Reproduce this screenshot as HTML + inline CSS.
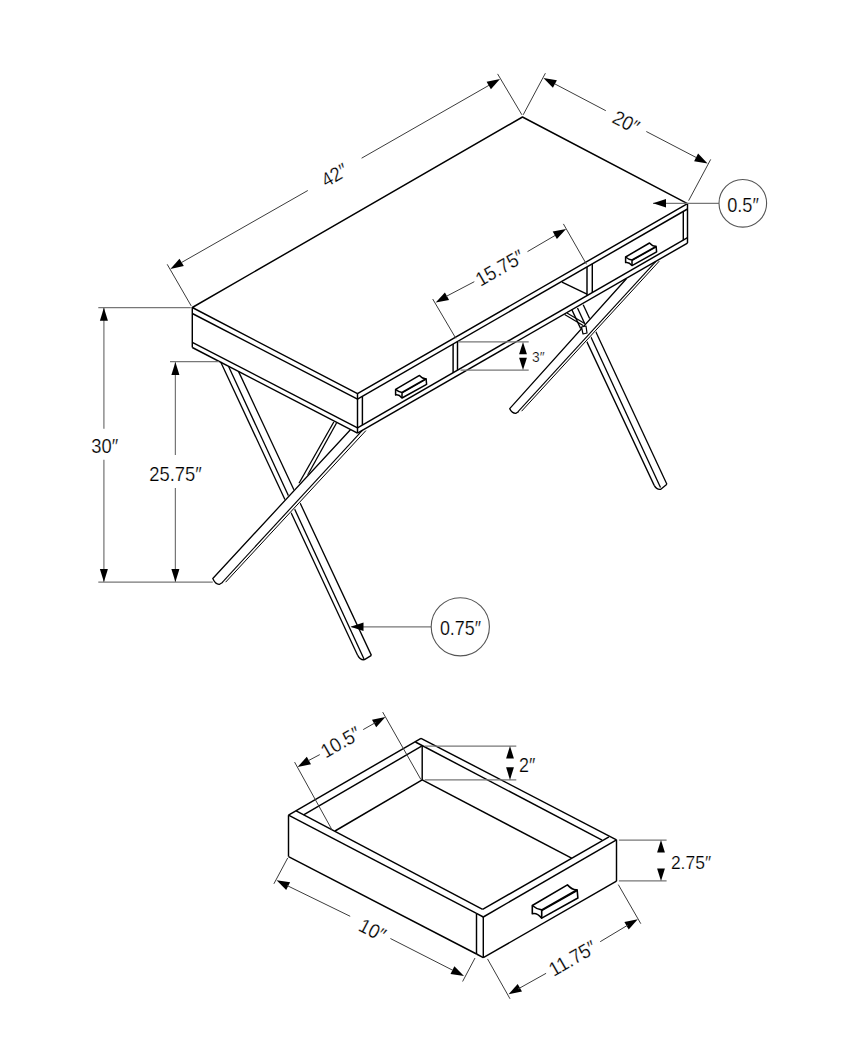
<!DOCTYPE html>
<html><head><meta charset="utf-8"><style>
html,body{margin:0;padding:0;background:#fff;}
svg{display:block;}
text{font-family:"Liberation Sans",sans-serif;fill:#000;stroke:#fff;stroke-width:0.22px;}
</style></head><body>
<svg width="865" height="1050" viewBox="0 0 865 1050" stroke-linecap="butt">
<rect width="865" height="1050" fill="#fff"/>
<line x1="220.7" y1="362.0" x2="357.7" y2="655.4" stroke="#000" stroke-width="1.3"/>
<line x1="228.5" y1="366.2" x2="364.0" y2="659.0" stroke="#000" stroke-width="1.3"/>
<line x1="238.5" y1="371.4" x2="371.4" y2="655.4" stroke="#000" stroke-width="1.3"/>
<path d="M357.7,655.4 Q360.5,660.5 364.5,659.6 L371.4,655.4" fill="none" stroke="#000" stroke-width="1.3" stroke-linejoin="round"/>
<line x1="333.8" y1="422.0" x2="299.0" y2="483.2" stroke="#000" stroke-width="1.3"/>
<line x1="336.5" y1="423.0" x2="307.7" y2="475.0" stroke="#000" stroke-width="1.3"/>
<path d="M350.4,429.8 L212.8,578.5 Q215.5,584.8 219.6,584.3 L226.5,581.5 L367,430 Z" fill="#fff" stroke="#fff" stroke-width="1.6" stroke-linejoin="round"/>
<path d="M362.6,430.2 L222.3,582.3" fill="none" stroke="#000" stroke-width="1.15" stroke-linejoin="round"/>
<path d="M350.4,429.8 L212.8,578.5 Q215.5,584.8 219.6,584.3 L222.9,582.3" fill="none" stroke="#000" stroke-width="1.3" stroke-linejoin="round"/>
<line x1="365.9" y1="430.6" x2="225.6" y2="582.2" stroke="#000" stroke-width="1.0"/>
<line x1="571.8" y1="309.6" x2="654.2" y2="485.4" stroke="#000" stroke-width="1.3"/>
<line x1="577.5" y1="308.0" x2="660.5" y2="487.6" stroke="#000" stroke-width="1.3"/>
<line x1="583.2" y1="304.7" x2="666.9" y2="484.3" stroke="#000" stroke-width="1.3"/>
<path d="M654.2,485.4 Q656.8,490 660.8,489.3 L666.9,484.3" fill="none" stroke="#000" stroke-width="1.3" stroke-linejoin="round"/>
<line x1="564.6" y1="314.4" x2="584.0" y2="326.0" stroke="#000" stroke-width="1.2"/>
<line x1="567.0" y1="313.0" x2="585.5" y2="324.0" stroke="#000" stroke-width="1.2"/>
<path d="M626.4,278.7 L509.7,408.6 Q512,413.5 516,413.3 L522.2,411.0 L660,261.0 Z" fill="#fff" stroke="#fff" stroke-width="1.6" stroke-linejoin="round"/>
<path d="M655.9,261.4 L518.3,411.4" fill="none" stroke="#000" stroke-width="1.15" stroke-linejoin="round"/>
<path d="M626.4,278.7 L509.7,408.6 Q512,413.5 516,413.3 L518.9,411.4" fill="none" stroke="#000" stroke-width="1.3" stroke-linejoin="round"/>
<line x1="659.2" y1="261.2" x2="521.6" y2="411.2" stroke="#000" stroke-width="1.0"/>
<path d="M581.5,327 L586,326 L587,333 L583,334 Z" fill="#fff" stroke="#000" stroke-width="1.2" stroke-linejoin="round"/>
<polyline points="357.5,393.7 192.3,307.5 522.5,117.0 687.5,203.6 357.5,393.7" fill="none" stroke="#000" stroke-width="1.45" stroke-linejoin="round"/>
<line x1="192.3" y1="313.5" x2="357.5" y2="399.1" stroke="#000" stroke-width="1.45"/>
<line x1="192.3" y1="342.3" x2="357.5" y2="427.9" stroke="#000" stroke-width="1.45"/>
<line x1="192.3" y1="347.5" x2="357.5" y2="433.1" stroke="#000" stroke-width="1.45"/>
<line x1="192.3" y1="307.5" x2="192.3" y2="347.5" stroke="#000" stroke-width="1.45"/>
<line x1="357.5" y1="393.7" x2="357.5" y2="433.1" stroke="#000" stroke-width="1.45"/>
<line x1="357.5" y1="399.1" x2="687.5" y2="209.0" stroke="#000" stroke-width="1.45"/>
<line x1="357.5" y1="427.8" x2="687.5" y2="237.7" stroke="#000" stroke-width="1.45"/>
<line x1="357.5" y1="433.2" x2="687.5" y2="243.1" stroke="#000" stroke-width="1.45"/>
<line x1="687.5" y1="203.6" x2="687.5" y2="243.1" stroke="#000" stroke-width="1.45"/>
<line x1="362.4" y1="396.3" x2="362.4" y2="425.0" stroke="#000" stroke-width="1.45"/>
<line x1="453.1" y1="344.0" x2="453.1" y2="372.7" stroke="#000" stroke-width="1.45"/>
<line x1="457.5" y1="341.5" x2="457.5" y2="370.2" stroke="#000" stroke-width="1.45"/>
<line x1="587.0" y1="266.9" x2="587.0" y2="295.6" stroke="#000" stroke-width="1.45"/>
<line x1="592.3" y1="263.8" x2="592.3" y2="292.5" stroke="#000" stroke-width="1.45"/>
<line x1="683.3" y1="211.4" x2="683.3" y2="240.1" stroke="#000" stroke-width="1.45"/>
<line x1="562.0" y1="282.2" x2="587.0" y2="294.2" stroke="#000" stroke-width="1.4"/>
<path d="M395.60,389.40 L419.50,375.40 Q423.10,379.20 426.10,378.70 L426.60,384.30 L402.00,398.00 Q398.60,394.00 395.60,395.00 Z" fill="#fff" stroke="#000" stroke-width="1.5" stroke-linejoin="round"/>
<path d="M395.60,389.40 Q398.60,392.00 402.00,392.40 L426.10,378.70 M402.00,392.40 L402.00,398.00" fill="none" stroke="#000" stroke-width="1.5" stroke-linejoin="round"/>
<line x1="402.00" y1="393.00" x2="426.10" y2="379.30" stroke="#000" stroke-width="1.2000000000000002"/>
<path d="M625.60,257.00 L649.50,243.00 Q653.10,246.80 656.10,246.30 L656.60,251.90 L632.00,265.60 Q628.60,261.60 625.60,262.60 Z" fill="#fff" stroke="#000" stroke-width="1.5" stroke-linejoin="round"/>
<path d="M625.60,257.00 Q628.60,259.60 632.00,260.00 L656.10,246.30 M632.00,260.00 L632.00,265.60" fill="none" stroke="#000" stroke-width="1.5" stroke-linejoin="round"/>
<line x1="632.00" y1="260.60" x2="656.10" y2="246.90" stroke="#000" stroke-width="1.2000000000000002"/>
<line x1="191.2" y1="305.9" x2="167.2" y2="264.3" stroke="#3c3c3c" stroke-width="1.0"/>
<line x1="521.9" y1="114.8" x2="497.6" y2="73.9" stroke="#3c3c3c" stroke-width="1.0"/>
<polygon points="170.4,268.9 179.5,258.7 183.8,266.1" fill="#000"/>
<polygon points="500.0,79.0 490.9,89.2 486.6,81.8" fill="#000"/>
<line x1="181.0" y1="262.8" x2="307.8" y2="190.5" stroke="#3c3c3c" stroke-width="1.0"/>
<line x1="361.6" y1="158.2" x2="489.0" y2="85.3" stroke="#3c3c3c" stroke-width="1.0"/>
<text transform="translate(334.5,175.2) rotate(-29.9) scale(0.92,1)" font-size="20" text-anchor="middle" dominant-baseline="central">42″</text>
<line x1="523.2" y1="114.8" x2="545.4" y2="73.2" stroke="#3c3c3c" stroke-width="1.0"/>
<line x1="688.6" y1="200.7" x2="710.7" y2="159.4" stroke="#3c3c3c" stroke-width="1.0"/>
<polygon points="543.4,78.0 556.9,80.2 552.9,87.8" fill="#000"/>
<polygon points="707.6,163.4 694.1,161.2 698.1,153.6" fill="#000"/>
<line x1="555.0" y1="84.0" x2="605.8" y2="110.7" stroke="#3c3c3c" stroke-width="1.0"/>
<line x1="646.3" y1="131.5" x2="696.0" y2="157.4" stroke="#3c3c3c" stroke-width="1.0"/>
<text transform="translate(626.0,122.2) rotate(27.4) scale(0.92,1)" font-size="20" text-anchor="middle" dominant-baseline="central">20″</text>
<line x1="653.0" y1="203.3" x2="718.9" y2="203.3" stroke="#777" stroke-width="1.25"/>
<polygon points="653.0,203.3 666.0,199.0 666.0,207.6" fill="#000"/>
<circle cx="742.8" cy="203.3" r="23.8" fill="none" stroke="#555" stroke-width="1.1"/>
<text transform="translate(743.0,205.0) rotate(0.0) scale(0.92,1)" font-size="19.8" text-anchor="middle" dominant-baseline="central">0.5″</text>
<line x1="432.7" y1="299.0" x2="455.8" y2="338.3" stroke="#3c3c3c" stroke-width="1.0"/>
<line x1="563.4" y1="223.9" x2="586.5" y2="264.3" stroke="#3c3c3c" stroke-width="1.0"/>
<polygon points="435.7,302.5 444.9,292.4 449.1,299.9" fill="#000"/>
<polygon points="566.1,229.0 556.9,239.1 552.7,231.6" fill="#000"/>
<line x1="446.0" y1="296.5" x2="474.3" y2="281.7" stroke="#3c3c3c" stroke-width="1.0"/>
<line x1="527.5" y1="251.6" x2="555.0" y2="235.5" stroke="#3c3c3c" stroke-width="1.0"/>
<text transform="translate(499.8,268.0) rotate(-29.9) scale(0.92,1)" font-size="20" text-anchor="middle" dominant-baseline="central">15.75″</text>
<line x1="458.2" y1="341.8" x2="528.7" y2="341.8" stroke="#777" stroke-width="1.25"/>
<line x1="460.5" y1="370.2" x2="528.7" y2="370.2" stroke="#777" stroke-width="1.25"/>
<polygon points="523.0,341.9 526.9,354.3 519.1,354.3" fill="#000"/>
<polygon points="523.0,369.9 519.1,357.7 526.9,357.7" fill="#000"/>
<text transform="translate(532.0,357.0) rotate(0.0) scale(0.92,1)" font-size="15" text-anchor="start" dominant-baseline="central">3″</text>
<line x1="98.3" y1="307.7" x2="190.7" y2="307.7" stroke="#777" stroke-width="1.25"/>
<line x1="98.3" y1="582.0" x2="212.8" y2="582.0" stroke="#777" stroke-width="1.25"/>
<line x1="103.9" y1="307.7" x2="103.9" y2="428.7" stroke="#777" stroke-width="1.25"/>
<line x1="103.9" y1="459.7" x2="103.9" y2="581.7" stroke="#777" stroke-width="1.25"/>
<polygon points="103.9,307.7 107.9,320.7 99.9,320.7" fill="#000"/>
<polygon points="103.9,582.0 99.9,569.0 107.9,569.0" fill="#000"/>
<text transform="translate(104.8,446.6) rotate(0.0) scale(0.92,1)" font-size="20" text-anchor="middle" dominant-baseline="central">30″</text>
<line x1="170.0" y1="361.7" x2="218.7" y2="361.7" stroke="#777" stroke-width="1.25"/>
<line x1="175.4" y1="362.3" x2="175.4" y2="455.0" stroke="#777" stroke-width="1.25"/>
<line x1="175.4" y1="488.0" x2="175.4" y2="581.7" stroke="#777" stroke-width="1.25"/>
<polygon points="175.4,362.0 179.4,375.0 171.4,375.0" fill="#000"/>
<polygon points="175.4,582.0 171.4,569.0 179.4,569.0" fill="#000"/>
<text transform="translate(175.5,473.9) rotate(0.0) scale(0.92,1)" font-size="20" text-anchor="middle" dominant-baseline="central">25.75″</text>
<line x1="351.4" y1="626.8" x2="431.1" y2="626.8" stroke="#777" stroke-width="1.25"/>
<polygon points="350.5,626.8 363.5,622.5 363.5,631.1" fill="#000"/>
<circle cx="460.3" cy="626.8" r="29.1" fill="none" stroke="#555" stroke-width="1.1"/>
<text transform="translate(460.5,628.5) rotate(0.0) scale(0.92,1)" font-size="19.5" text-anchor="middle" dominant-baseline="central">0.75″</text>
<line x1="288.5" y1="815.2" x2="421.0" y2="738.3" stroke="#000" stroke-width="1.45"/>
<line x1="303.6" y1="814.8" x2="421.6" y2="746.2" stroke="#000" stroke-width="1.45"/>
<line x1="288.5" y1="815.2" x2="476.5" y2="913.3" stroke="#000" stroke-width="1.45"/>
<line x1="296.2" y1="810.9" x2="482.6" y2="909.4" stroke="#000" stroke-width="1.45"/>
<line x1="421.0" y1="738.3" x2="616.5" y2="839.8" stroke="#000" stroke-width="1.45"/>
<line x1="415.4" y1="742.0" x2="602.1" y2="840.1" stroke="#000" stroke-width="1.45"/>
<line x1="609.0" y1="836.8" x2="482.6" y2="909.4" stroke="#000" stroke-width="1.45"/>
<line x1="616.5" y1="839.8" x2="483.3" y2="917.0" stroke="#000" stroke-width="1.45"/>
<line x1="476.5" y1="913.3" x2="483.3" y2="917.0" stroke="#000" stroke-width="1.45"/>
<line x1="288.5" y1="815.2" x2="288.5" y2="856.6" stroke="#000" stroke-width="1.45"/>
<line x1="476.5" y1="913.3" x2="476.5" y2="954.0" stroke="#000" stroke-width="1.45"/>
<line x1="483.3" y1="917.0" x2="483.3" y2="957.7" stroke="#000" stroke-width="1.45"/>
<line x1="616.5" y1="839.8" x2="616.5" y2="881.2" stroke="#000" stroke-width="1.45"/>
<line x1="288.5" y1="856.6" x2="476.5" y2="954.0" stroke="#000" stroke-width="1.45"/>
<line x1="476.5" y1="954.0" x2="483.3" y2="957.7" stroke="#000" stroke-width="1.45"/>
<line x1="483.3" y1="957.7" x2="616.5" y2="881.2" stroke="#000" stroke-width="1.45"/>
<line x1="335.0" y1="831.0" x2="422.2" y2="779.9" stroke="#000" stroke-width="1.45"/>
<line x1="422.2" y1="746.0" x2="422.2" y2="779.9" stroke="#000" stroke-width="1.45"/>
<line x1="422.2" y1="779.9" x2="571.6" y2="858.1" stroke="#000" stroke-width="1.45"/>
<path d="M532.30,905.50 L567.43,884.92 Q572.72,890.51 577.13,889.77 L577.87,898.00 L541.71,918.14 Q536.71,912.26 532.30,913.73 Z" fill="#fff" stroke="#000" stroke-width="1.6" stroke-linejoin="round"/>
<path d="M532.30,905.50 Q536.71,909.32 541.71,909.91 L577.13,889.77 M541.71,909.91 L541.71,918.14" fill="none" stroke="#000" stroke-width="1.6" stroke-linejoin="round"/>
<line x1="541.71" y1="910.79" x2="577.13" y2="890.65" stroke="#000" stroke-width="1.2800000000000002"/>
<line x1="294.6" y1="762.1" x2="332.1" y2="830.0" stroke="#3c3c3c" stroke-width="1.0"/>
<line x1="382.7" y1="712.1" x2="420.9" y2="779.5" stroke="#3c3c3c" stroke-width="1.0"/>
<polygon points="297.6,767.0 306.8,756.8 311.0,764.3" fill="#000"/>
<polygon points="385.4,717.0 376.2,727.2 372.0,719.7" fill="#000"/>
<line x1="307.7" y1="761.0" x2="319.8" y2="754.6" stroke="#3c3c3c" stroke-width="1.0"/>
<line x1="363.2" y1="729.6" x2="376.2" y2="722.2" stroke="#3c3c3c" stroke-width="1.0"/>
<text transform="translate(340.6,742.3) rotate(-29.9) scale(0.92,1)" font-size="20" text-anchor="middle" dominant-baseline="central">10.5″</text>
<line x1="424.7" y1="746.0" x2="516.3" y2="746.0" stroke="#777" stroke-width="1.25"/>
<line x1="424.7" y1="779.9" x2="516.3" y2="779.9" stroke="#777" stroke-width="1.25"/>
<polygon points="510.0,746.0 513.9,758.6 506.1,758.6" fill="#000"/>
<polygon points="510.0,779.9 506.1,767.3 513.9,767.3" fill="#000"/>
<text transform="translate(519.0,764.9) rotate(0.0) scale(0.92,1)" font-size="19.5" text-anchor="start" dominant-baseline="central">2″</text>
<line x1="618.9" y1="840.0" x2="666.6" y2="840.0" stroke="#777" stroke-width="1.25"/>
<line x1="618.9" y1="880.9" x2="666.6" y2="880.9" stroke="#777" stroke-width="1.25"/>
<polygon points="661.0,840.0 664.9,852.6 657.1,852.6" fill="#000"/>
<polygon points="661.0,880.9 657.1,868.6 664.9,868.6" fill="#000"/>
<text transform="translate(670.9,862.2) rotate(0.0) scale(0.92,1)" font-size="19" text-anchor="start" dominant-baseline="central">2.75″</text>
<line x1="287.7" y1="858.0" x2="273.9" y2="883.8" stroke="#3c3c3c" stroke-width="1.0"/>
<line x1="475.0" y1="958.0" x2="462.6" y2="981.5" stroke="#3c3c3c" stroke-width="1.0"/>
<polygon points="276.6,880.2 290.1,882.3 286.2,889.9" fill="#000"/>
<polygon points="464.0,976.0 450.5,973.9 454.4,966.3" fill="#000"/>
<line x1="287.0" y1="885.5" x2="350.2" y2="916.3" stroke="#3c3c3c" stroke-width="1.0"/>
<line x1="390.4" y1="938.5" x2="453.0" y2="970.4" stroke="#3c3c3c" stroke-width="1.0"/>
<text transform="translate(372.4,930.2) rotate(27.4) scale(0.92,1)" font-size="20" text-anchor="middle" dominant-baseline="central">10″</text>
<line x1="487.5" y1="958.9" x2="510.0" y2="998.8" stroke="#3c3c3c" stroke-width="1.0"/>
<line x1="618.3" y1="884.6" x2="640.8" y2="923.7" stroke="#3c3c3c" stroke-width="1.0"/>
<polygon points="508.6,994.3 517.7,984.0 522.0,991.5" fill="#000"/>
<polygon points="637.8,919.2 628.7,929.5 624.4,922.0" fill="#000"/>
<line x1="518.0" y1="989.0" x2="546.1" y2="973.3" stroke="#3c3c3c" stroke-width="1.0"/>
<line x1="600.2" y1="941.7" x2="628.0" y2="925.0" stroke="#3c3c3c" stroke-width="1.0"/>
<text transform="translate(572.5,958.3) rotate(-29.9) scale(0.92,1)" font-size="20" text-anchor="middle" dominant-baseline="central">11.75″</text>
</svg>
</body></html>
